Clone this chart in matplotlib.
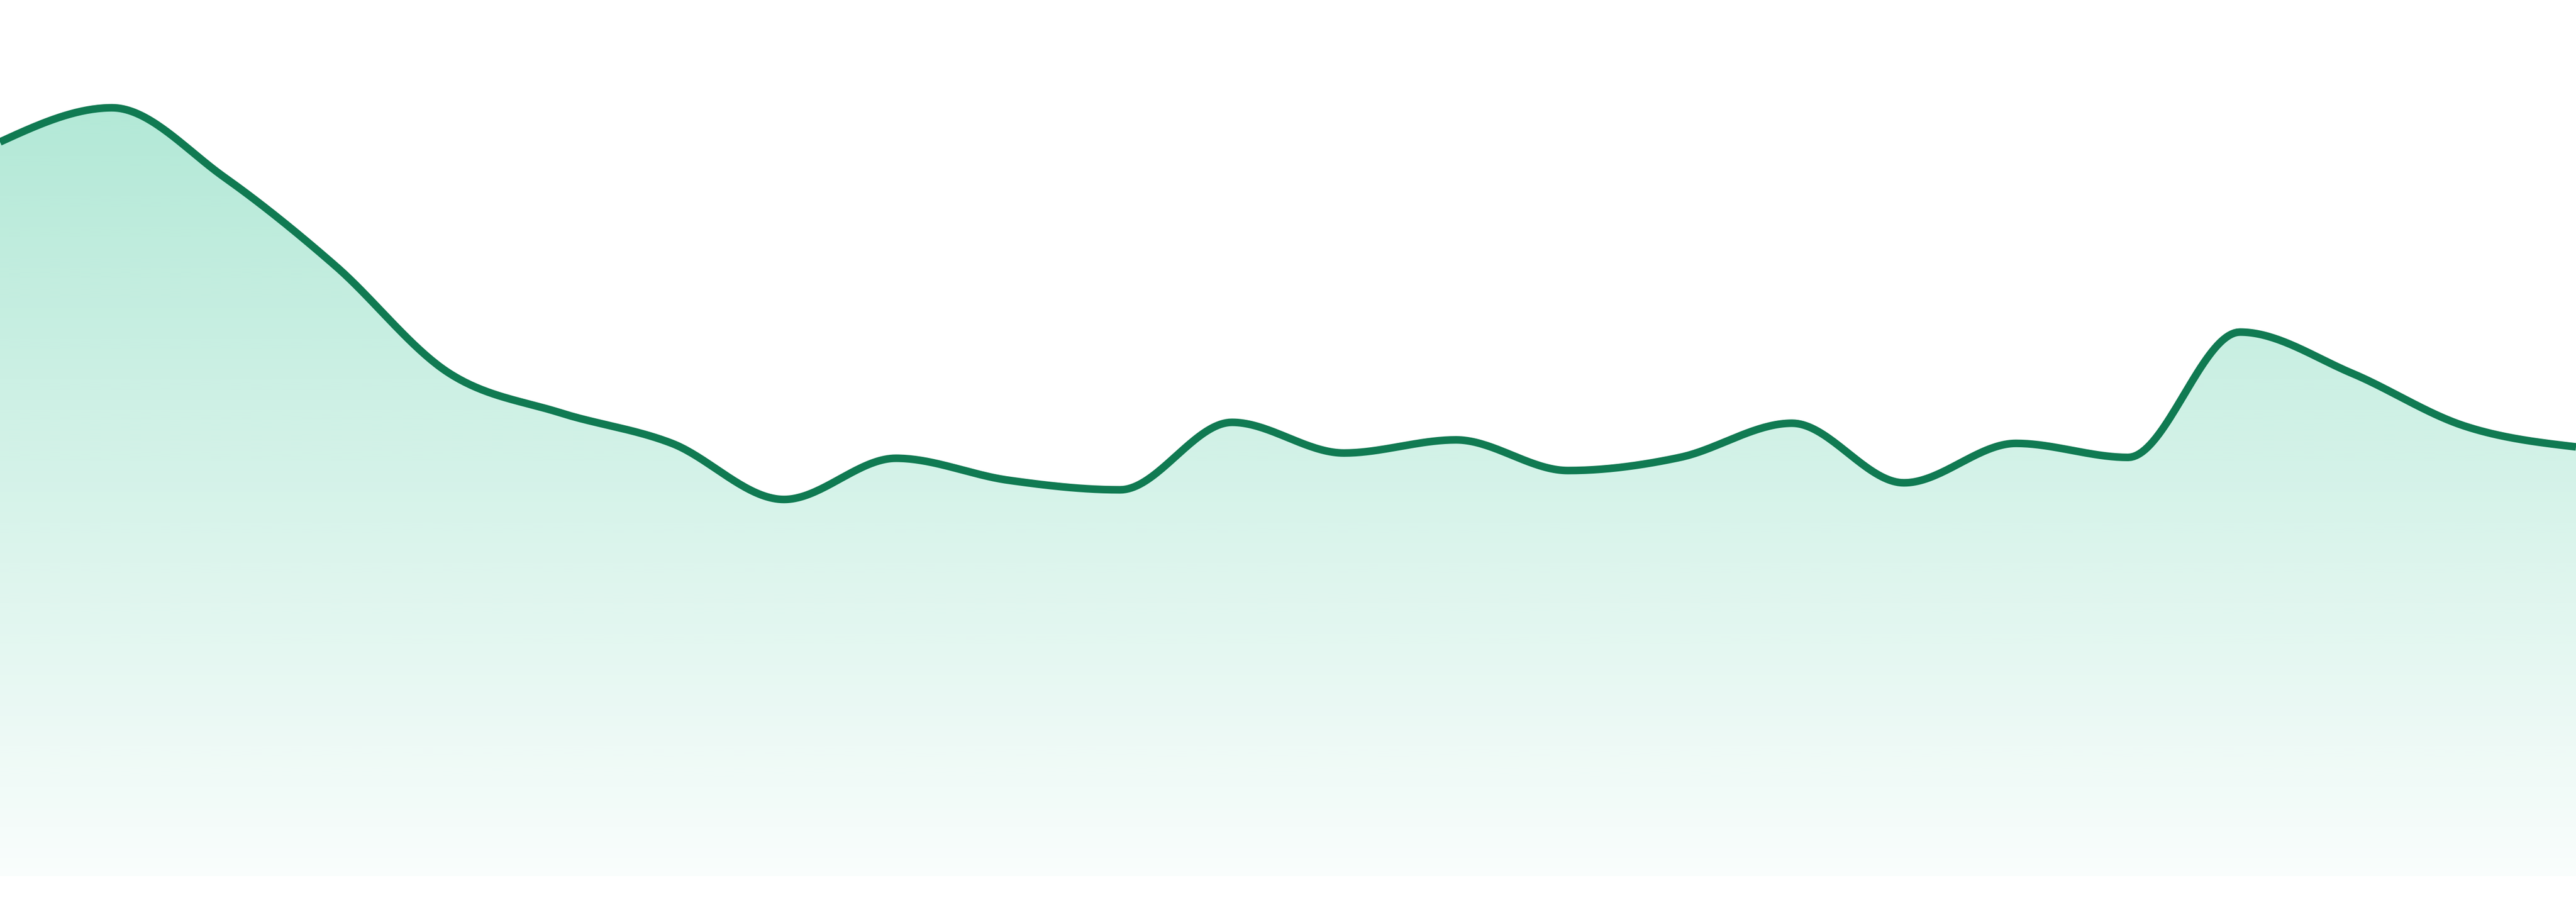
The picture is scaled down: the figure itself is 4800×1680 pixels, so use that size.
import numpy as np
import matplotlib
matplotlib.use("Agg")
import matplotlib.pyplot as plt
from matplotlib.patches import Polygon

# data: 24 equally spaced samples
x_vals = list(range(24))
y_vals = [83.8, 87.7, 79.8, 69.6, 57.5, 52.9, 49.4, 43.0, 47.7, 45.2,
          44.1, 51.8, 48.3, 49.8, 46.3, 47.8, 51.7, 44.9, 49.4, 47.8,
          62.1, 57.4, 51.4, 49.0]

LINE_COLOR = "#107a52"
FILL_RGB = (16 / 255, 185 / 255, 129 / 255)


def monotone_x(x, y, n=40):
    """Monotone cubic curve through the points (same idea as d3 curveMonotoneX)."""
    x = np.asarray(x, float)
    y = np.asarray(y, float)
    h = np.diff(x)
    s = np.diff(y) / h
    t = np.zeros_like(y)
    for i in range(1, len(y) - 1):
        p = (s[i - 1] * h[i] + s[i] * h[i - 1]) / (h[i - 1] + h[i])
        t[i] = (np.sign(s[i - 1]) + np.sign(s[i])) * min(abs(s[i - 1]), abs(s[i]), 0.5 * abs(p))
    t[0] = (3 * s[0] - t[1]) / 2
    t[-1] = (3 * s[-1] - t[-2]) / 2
    xs, ys = [], []
    for i in range(len(x) - 1):
        u = np.linspace(0, 1, n, endpoint=False)
        h00 = 2 * u**3 - 3 * u**2 + 1
        h10 = u**3 - 2 * u**2 + u
        h01 = -2 * u**3 + 3 * u**2
        h11 = u**3 - u**2
        xs.append(x[i] + u * h[i])
        ys.append(h00 * y[i] + h10 * h[i] * t[i] + h01 * y[i + 1] + h11 * h[i] * t[i + 1])
    xs.append([x[-1]])
    ys.append([y[-1]])
    return np.concatenate(xs), np.concatenate(ys)


cx, cy = monotone_x(x_vals, y_vals)

fig = plt.figure(figsize=(16, 5.6), dpi=300)
ax = fig.add_axes([0, 48 / 1680, 1, 1632 / 1680])
ax.set_xlim(0, 23)
ax.set_ylim(0, 100)
ax.axis("off")

# gradient under the line, clipped to the area shape
top = max(y_vals)
grad = np.zeros((256, 1, 4))
grad[..., 0], grad[..., 1], grad[..., 2] = FILL_RGB
grad[:, 0, 3] = np.linspace(0.32, 0.025, 256)
img = ax.imshow(grad, extent=[0, 23, 0, top], origin="upper", aspect="auto",
                interpolation="bilinear", zorder=1)
poly = Polygon(np.column_stack([np.r_[cx, 23, 0], np.r_[cy, 0, 0]]), closed=True,
               facecolor="none", edgecolor="none")
ax.add_patch(poly)
img.set_clip_path(poly)

ax.plot(cx, cy, color=LINE_COLOR, lw=3.4, solid_capstyle="butt",
        solid_joinstyle="round", zorder=2)

fig.savefig("out.png", dpi=300, facecolor="white")
